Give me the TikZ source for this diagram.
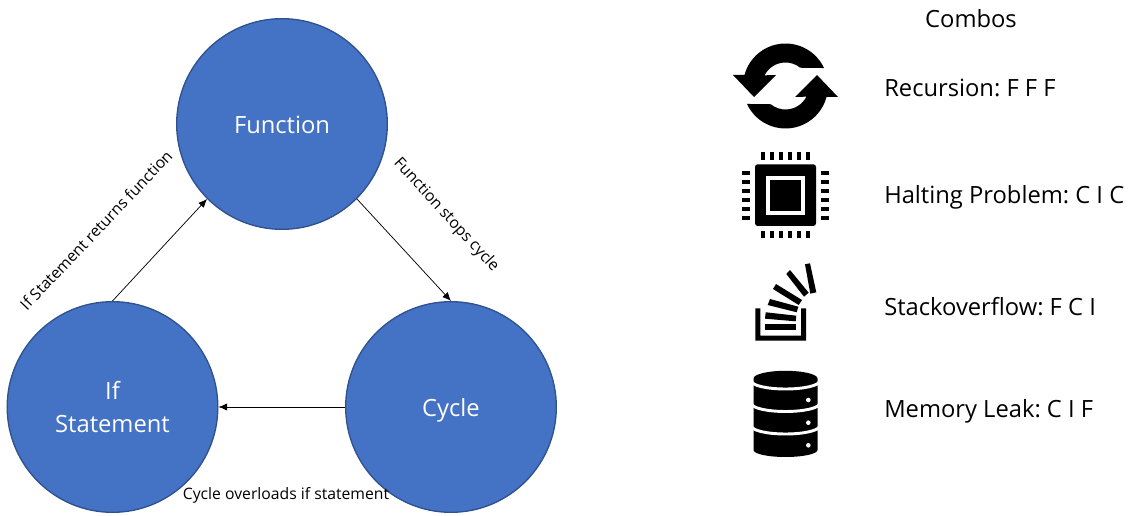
\documentclass[tikz,border=0pt]{standalone}
\usepackage{fontspec}
\setmainfont{Open Sans}
\usetikzlibrary{arrows.meta}
\usetikzlibrary{positioning}
\definecolor{circleFill}{HTML}{4472C4}
\definecolor{circleEdge}{HTML}{2F528F}

\begin{document}
\frenchspacing
\begin{tikzpicture}[
        x=0.75pt,
        y=-0.75pt,
        circleS/.style={
            circle,
            fill=circleFill,
            draw=circleEdge,
            line width=1pt,
            minimum size=158pt,
            inner sep=0pt,
            align=center,
            text=white,
            font=\fontsize{17.8}{25}\selectfont
        },
        oneLineS/.style={
            text height=18pt,
            text depth=3.8pt
        },
        arrowS/.style={
            -{Latex[length=6.5pt,width=5.5pt]},
            line width=0.55pt
        },
        edgeS/.style={
            inner sep=0pt,
            font=\fontsize{11.8}{14}\selectfont
        },
        comboS/.style={
            anchor=base west,
            inner sep=0pt,
            font=\fontsize{17.8}{22}\selectfont
        },
        iconS/.style={
            shift={#1},
            y=0.75pt
        },
    ]
    \useasboundingbox (0,0) rectangle (1129,516);

	\node[circleS,oneLineS] (F) at (282,124) {Function};
	\node[circleS] (I) at (112.5,407) {If\\Statement};
	\node[circleS,oneLineS] (C) at (451,407) {Cycle};

	\draw[arrowS] (I.north) -- (F.225);
	\draw[arrowS] (F.-45) -- (C.north);
	\draw[arrowS] (C.west) -- (I.east);

	\node[edgeS,rotate=46.5] (L1) at (96,230) {If Statement returns function};
	\node[edgeS,rotate=-47.5] (L2) at (446,215) {Function stops cycle};
	\node[edgeS] (L3) at (286,495) {Cycle overloads if statement};

	\node[comboS,anchor=base] (T) at (971,28) {Combos};
	\node[comboS] (R) at (884,97) {Recursion: F F F};
	\node[comboS] (H) at (884,204) {Halting Problem: C I C};
	\node[comboS] (S) at (884,316) {Stackoverflow: F C I};
	\node[comboS] (M) at (884,418) {Memory Leak: C I F};

	% recursion icon
	\begin{scope}[iconS={(785.5,86)}]
		\foreach \a in {0,180} {
			\fill[rotate=\a] (25:42.5) arc (25:165:42.5) -- (-52.5,11) -- (-31.5,-11) -- (-9.5,11)
				-- (153:23.5) arc (153:51:23.5) -- cycle;
		}
	\end{scope}

	% chip icon
	\fill[rounded corners=2pt] (755,164.3) rectangle (816,226);
	\fill[white] (766,176) rectangle (804.7,214.7);
	\fill (770.3,180.3) rectangle (800.7,210.7);
	\foreach \i in {0,...,5} {
		\fill ({760.7+\i*9},152.3) rectangle ({765.2+\i*9},160);
		\fill ({760.7+\i*9},231) rectangle ({765.2+\i*9},238.5);
		\fill (742.3,{170.7+\i*9}) rectangle (750,{175.2+\i*9});
		\fill (821,{170.7+\i*9}) rectangle (828.7,{175.2+\i*9});
	}

	% stack icon
	\fill (755.3,308.3) -- (760.3,308.3) -- (760.3,335.7) -- (801,335.7) -- (801,308.3) -- (806,308.3)
		-- (806,340.7) -- (755.3,340.7) -- cycle;
	\fill (765,324) rectangle (795.7,330.3);
	\fill (765.7,312.3) -- (796.3,315.7) -- (795.7,321.3) -- (765,318.7) -- cycle;
	\fill (770,299) -- (798.3,306.7) -- (796.7,312.3) -- (767.7,305) -- cycle;
	\fill (776,284) -- (802,300) -- (798.7,305) -- (773,289) -- cycle;
	\fill (790,270) -- (808.7,292.7) -- (804,296.7) -- (786.3,274) -- cycle;
	\fill (810,263.3) -- (816.3,292.3) -- (810.3,293.7) -- (805,264.3) -- cycle;

	% memory icon
	\begin{scope}[iconS={(785.5,414)}]
		\fill (-32,35.5) -- (-32,-36) arc (180:360:32 and 7) -- (32,35.5) arc (0:180:32 and 7.7) -- cycle;
		\foreach \j in {33,10.5,-12} {
			\draw[white,line width=2.2pt] (-34,\j) arc (180:360:34 and 8);
		}
		\foreach \j in {14,-8.7,-31.3} {
			\fill[white] (22.8,\j) circle (2.3);
		}
	\end{scope}
\end{tikzpicture}
\end{document}
